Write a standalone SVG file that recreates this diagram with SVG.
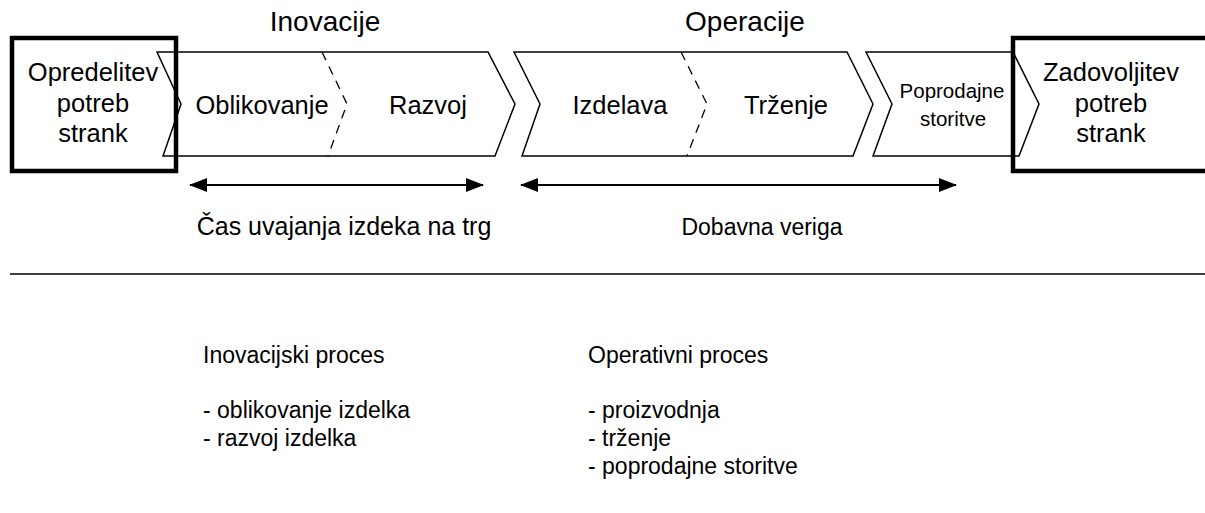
<svg xmlns="http://www.w3.org/2000/svg" width="1205" height="513" viewBox="0 0 1205 513">
<style>
text{font-family:"Liberation Sans",Arial,sans-serif;fill:#000}
.h{font-size:28px}
.t{font-size:25.5px}
.m{font-size:25px}
.d{font-size:23px}
.b{font-size:23px}
.s{font-size:20.5px}
.c{text-anchor:middle}
.chev{fill:#fff;stroke:#000;stroke-width:1.5;stroke-linejoin:miter}
.box{fill:none;stroke:#000;stroke-width:4.5}
.dash{fill:none;stroke:#000;stroke-width:1.3;stroke-dasharray:9,7}
.arr{stroke:#000;stroke-width:2.2;fill:none}
</style>
<defs>
<marker id="ah" viewBox="0 0 18 14" refX="17" refY="7" markerWidth="18" markerHeight="14" markerUnits="userSpaceOnUse" orient="auto-start-reverse">
<path d="M0,0 L18,7 L0,14 Z" fill="#000"/>
</marker>
</defs>
<rect width="1205" height="513" fill="#fff"/>
<text class="h c" x="325" y="31">Inovacije</text>
<text class="h c" x="745" y="31">Operacije</text>
<g id="chev-inov">
<path class="chev" d="M157,52 L488,52 L515,104 L495,156 L163,156 L181,104 Z"/>
<path class="dash" d="M322,52 L347,104 L328,156"/>
<text class="t c" x="262" y="114">Oblikovanje</text>
<text class="t c" x="428" y="114">Razvoj</text>
</g>
<g id="chev-oper">
<path class="chev" d="M514,52 L847,52 L873,104 L853,156 L522,156 L540,104 Z"/>
<path class="dash" d="M681,52 L707,104 L687,156"/>
<text class="t c" x="620" y="114">Izdelava</text>
<text class="t c" x="786" y="114">Trženje</text>
</g>
<g id="chev-popr">
<path class="chev" d="M866,52 L1013,52 L1039,104 L1019,156 L873,156 L892,104 Z"/>
<text class="s c" x="952" y="98">Poprodajne</text>
<text class="s c" x="953" y="126">storitve</text>
</g>
<g id="box-left">
<rect class="box" x="12" y="38" width="164" height="133"/>
<text class="t c" x="93" y="81">Opredelitev</text>
<text class="t c" x="93" y="111.5">potreb</text>
<text class="t c" x="93" y="142">strank</text>
</g>
<g id="box-right">
<rect class="box" x="1013" y="38" width="200" height="133"/>
<text class="t c" x="1111" y="81">Zadovoljitev</text>
<text class="t c" x="1111" y="111.5">potreb</text>
<text class="t c" x="1111" y="142">strank</text>
</g>
<g id="connectors">
<line class="arr" x1="190" y1="185" x2="483" y2="185" marker-start="url(#ah)" marker-end="url(#ah)"/>
<line class="arr" x1="521" y1="185" x2="956" y2="185" marker-start="url(#ah)" marker-end="url(#ah)"/>
<line x1="10" y1="274" x2="1205" y2="274" stroke="#000" stroke-width="1.5"/>
</g>
<text class="m c" x="344" y="235">Čas uvajanja izdeka na trg</text>
<text class="d c" x="762" y="235">Dobavna veriga</text>
<g id="notes">
<text class="b" x="203" y="363">Inovacijski proces</text>
<text class="b" x="203" y="418">- oblikovanje izdelka</text>
<text class="b" x="203" y="446">- razvoj izdelka</text>
<text class="b" x="588" y="363">Operativni proces</text>
<text class="b" x="588" y="418">- proizvodnja</text>
<text class="b" x="588" y="446">- trženje</text>
<text class="b" x="588" y="474">- poprodajne storitve</text>
</g>
</svg>
